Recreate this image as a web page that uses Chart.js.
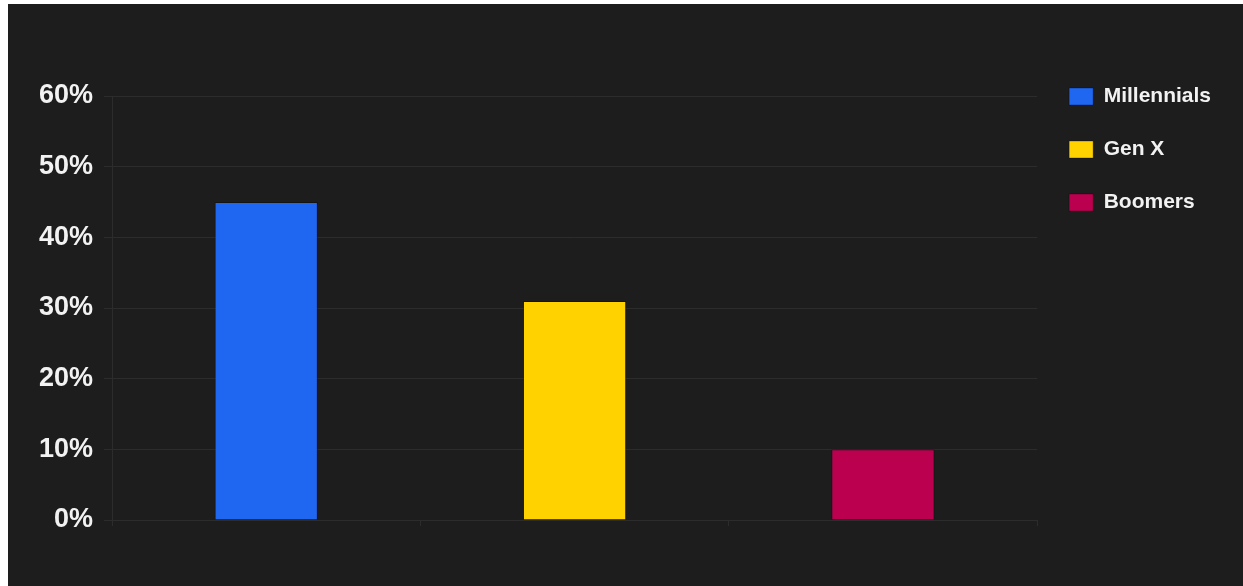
<!DOCTYPE html>
<html>
<head>
<meta charset="utf-8">
<title>Generations</title>
<script src="https://cdn.jsdelivr.net/npm/chart.js@4.4.1/dist/chart.umd.min.js"></script>
<style>
  html, body { margin: 0; padding: 0; background: #ffffff; }
  #panel {
    position: absolute;
    left: 8px;
    top: 4px;
    width: 1235px;
    height: 582px;
    background: #1d1d1d;
  }
</style>
</head>
<body>
<div id="panel"><canvas id="genChart"></canvas></div>
<script>
// share of each generation (percent)
const generations = ["Millennials", "Gen X", "Boomers"];
const shares = [45, 31, 10];
const barColors = ["#1f66f1", "#ffd200", "#bc0050"];
const yTicks = [0, 10, 20, 30, 40, 50, 60];

const gridColor = "#2c2c2c";
const textColor = "#f2f2f2";
const fontFamily = "'Helvetica Neue', Helvetica, 'Liberation Sans', Arial, sans-serif";

new Chart(document.getElementById("genChart"), {
  type: "bar",
  data: {
    labels: generations,
    datasets: [
      {
        data: shares,
        backgroundColor: barColors,
        borderColor: "rgba(0,0,0,0.3)",
        borderWidth: 1,
        barPercentage: 0.335,
        categoryPercentage: 1,
      },
    ],
  },
  options: {
    responsive: true,
    maintainAspectRatio: false,
    animation: false,
    layout: { padding: { top: 50, left: 20, right: 22, bottom: 60 } },
    plugins: {
      tooltip: { enabled: false },
      legend: {
        position: "right",
        align: "start",
        labels: {
          color: textColor,
          font: { family: fontFamily, size: 21, weight: "bold" },
          boxWidth: 24,
          boxHeight: 17,
          padding: 32,
          generateLabels: (chart) =>
            generations.map((name, i) => ({
              text: name,
              fillStyle: barColors[i],
              strokeStyle: "rgba(0,0,0,0.3)",
              lineWidth: 1,
              fontColor: textColor,
              hidden: false,
              index: i,
            })),
        },
      },
    },
    scales: {
      x: {
        grid: {
          drawOnChartArea: false,
          offset: true,
          color: gridColor,
          tickLength: 6,
        },
        border: { color: gridColor },
        ticks: { display: false },
      },
      y: {
        min: yTicks[0],
        max: yTicks[yTicks.length - 1],
        afterBuildTicks: (scale) => {
          scale.ticks = yTicks.map((v) => ({ value: v }));
        },
        // keep the plot top below the legend's first row
        afterFit: (scale) => {
          scale.paddingTop = 92;
        },
        grid: { color: gridColor, tickLength: 8 },
        border: { color: gridColor },
        ticks: {
          color: textColor,
          padding: 11,
          font: { family: fontFamily, size: 27, weight: "bold" },
          callback: (v) => v + "%",
        },
      },
    },
  },
});
</script>
</body>
</html>
